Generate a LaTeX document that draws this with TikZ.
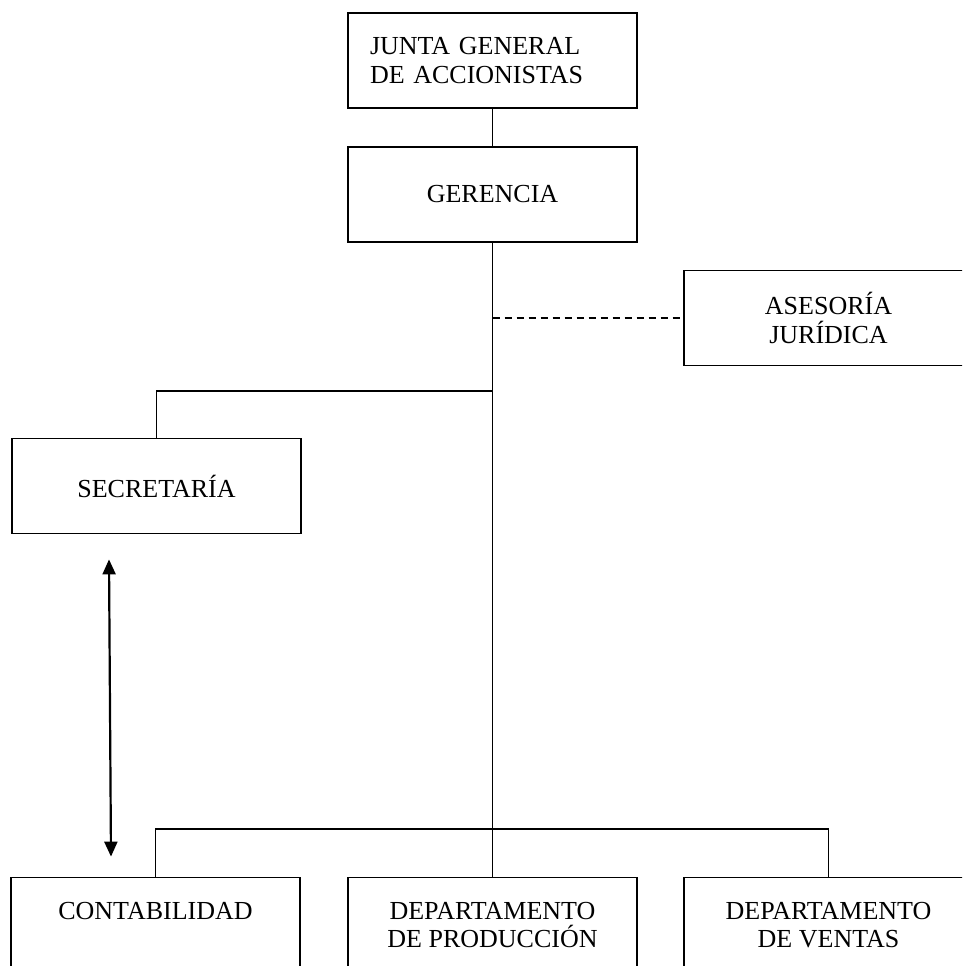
\documentclass[tikz,border=0pt]{standalone}
\usepackage{fontspec}
\setmainfont{Liberation Serif}
\usetikzlibrary{arrows.meta}

\begin{document}
\begin{tikzpicture}[x=1pt,y=-1pt,
    box/.style={draw,rectangle,line width=1.8pt,align=center,
	minimum width=289pt,minimum height=95pt,
	font=\fontsize{26}{28.5}\selectfont},
    link/.style={line width=1.7pt},
    bothway/.style={line width=2.2pt,
	{Triangle[length=15pt,width=13pt]}-{Triangle[length=15pt,width=13pt]}}]
    \useasboundingbox (0,0) rectangle (962,966);
    \clip (0,0) rectangle (962,966);
    \path (492.5, 60.5) node [box,align=left,text width=245pt]
	(junta) {JUNTA GENERAL\\DE ACCIONISTAS};
    \path (492.5,194.5) node [box] (gerencia) {GERENCIA};
    \path (828.5,318) node [box] (asesoria) {ASESORÍA\\JURÍDICA};
    \path (156.5,486) node [box] (secretaria) {SECRETARÍA};
    \path (155.5,925) node [box] (contabilidad) {CONTABILIDAD\\\mbox{}};
    \path (492.5,925) node [box] (produccion) {DEPARTAMENTO\\DE PRODUCCIÓN};
    \path (828.5,925) node [box] (ventas) {DEPARTAMENTO\\DE VENTAS};
    \coordinate (staff) at (492.5,318);
    \coordinate (branch) at (492.5,391);
    \coordinate (bus) at (492.5,829);
    \draw [link] (junta) -- (gerencia);
    \draw [link] (gerencia) -- (produccion);
    \draw [link,dash pattern=on 7pt off 5pt] (staff) -- (asesoria);
    \draw [link] (branch) -| (secretaria);
    \draw [link] (contabilidad) |- (bus) -| (ventas);
    \draw [bothway] ([shift={(-47.5,25)}]secretaria.south)
	-- ([shift={(-44.5,-20)}]contabilidad.north);
\end{tikzpicture}
\end{document}
